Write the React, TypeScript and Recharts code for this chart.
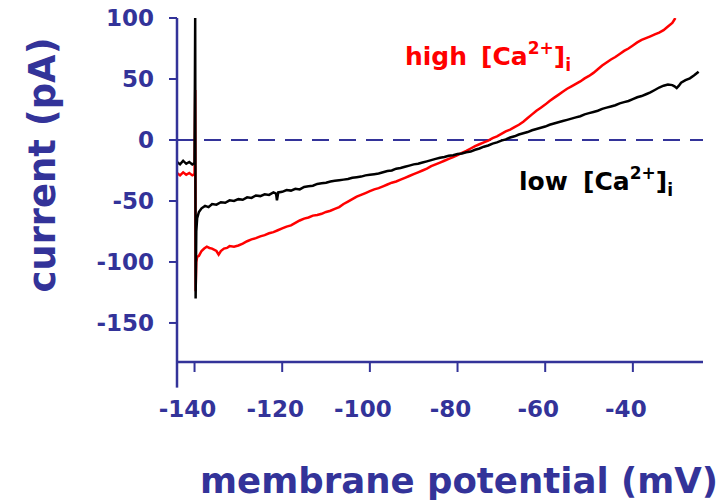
import { LineChart, Line, XAxis, YAxis, ReferenceLine } from "recharts";

const AXIS = "#333399";
const FONT = "'Comic Sans MS', 'DejaVu Sans', sans-serif";

// membrane potential (mV) and current (pA), low [Ca2+]i trace
const lowV = [
  -144, -143.3, -142.6, -141.9, -141.2, -140.5, -140, -139.85, -139.75, -139.6, -139.4, -139, -138.4, -137.6,
  -136.8, -136, -135, -134, -133, -132, -131, -130, -129, -128, -127, -126, -125, -124, -123, -122, -121.4,
  -121.2, -120.9, -120, -119, -118, -117, -116, -115, -114, -113, -112, -111, -110, -109, -108, -107, -106,
  -105, -104, -103, -102, -101, -100, -99, -98, -97, -96, -95, -94, -93, -92, -91, -90, -89, -88, -87, -86,
  -85, -84, -83, -82, -81, -80, -79, -78, -77, -76, -75, -74, -73, -72, -71, -70, -69, -68, -67, -66, -65,
  -64, -63, -62, -61, -60, -59, -58, -57, -56, -55, -54, -53, -52, -51, -50, -49, -48, -47, -46, -45, -44,
  -43, -42, -41, -40, -39, -38, -37, -36, -35, -34, -33, -32, -31, -30.5, -30, -29.5, -29, -28, -27, -26, -25,
];
const lowI = [
  -18, -20, -17, -19.5, -18, -20, -19, 100, -130, -75, -64, -59, -56, -54,
  -55, -52.5, -53, -51, -51.5, -49.5, -50, -48.5, -49, -47, -47.5, -45.5, -46, -44.5, -45, -43, -44,
  -49.5, -43, -42.5, -41, -41.5, -40, -40.5, -38.5, -38, -37.5, -36, -35.5, -35, -34, -33.5, -33, -32.5,
  -32, -31, -30.5, -30, -29, -28.5, -28, -27.5, -26.5, -25.5, -25, -23.5, -23, -22, -21, -20, -19.5, -18.5, -17.5, -16.5,
  -15.5, -14.5, -14, -13, -12.5, -11.5, -11, -10, -9.5, -8, -7, -5.5, -4.5, -3, -2, -0.5, 0.5, 2, 3, 4.5, 5.5,
  6.5, 8, 9, 10, 11, 12.5, 13.5, 14.5, 15.5, 16.5, 17.5, 18.5, 19.5, 21, 22, 23, 24, 25.5, 26.5, 27.5, 28.5,
  30, 31, 32, 33.5, 35, 36, 37.5, 39, 41, 43, 44.5, 45.5, 45, 44, 42.5, 44.5, 47, 49, 50.5, 53, 56,
];

// high [Ca2+]i trace
const highV = [
  -144, -143.3, -142.6, -141.9, -141.2, -140.5, -140, -139.85, -139.75, -139.6, -139.4, -139, -138.4, -137.8,
  -137.2, -136.6, -136, -135, -134.5, -134, -133.3, -132.6, -132, -131, -130, -129, -128, -127, -126, -125,
  -124, -123, -122, -121, -120, -119, -118, -117, -116, -115, -114, -113, -112, -111, -110, -109, -108, -107,
  -106, -105, -104, -103, -102, -101, -100, -99, -98, -97, -96, -95, -94, -93, -92, -91, -90, -89, -88, -87,
  -86, -85, -84, -83, -82, -81, -80, -79, -78, -77, -76, -75, -74, -73, -72, -71, -70, -69, -68, -67, -66,
  -65, -64, -63, -62, -61, -60, -59, -58, -57, -56, -55, -54, -53, -52, -51, -50, -49, -48, -47, -46, -45,
  -44, -43, -42, -41, -40, -39, -38, -37, -36, -35, -34, -33, -32, -31, -30.3,
];
const highI = [
  -27, -29, -26.5, -28.5, -27, -29, -28, 41, -124, -100, -96, -95, -91, -89,
  -87.5, -88.5, -89, -91, -94, -91, -89, -88.5, -87, -87.5, -86.5, -85, -83, -81.5, -80.5, -79,
  -78, -76.5, -75.5, -74, -72.5, -71, -70, -68, -66, -64.5, -63.5, -62, -61.5, -60.5, -59, -58, -56.5, -55,
  -52.5, -50.5, -48.5, -46.5, -45, -43.5, -42, -40.5, -39.5, -38, -36.5, -35, -34, -32.5, -31, -29.5, -28, -26.5, -25, -23.5,
  -21.5, -20, -18.5, -17, -15.5, -14, -12.5, -10.5, -9, -7, -5, -3.5, -2, -0.5, 1.5, 3, 5, 7, 8.5, 10.5, 12.5,
  15, 18, 21, 24, 26.5, 29, 32, 34.5, 37, 39.5, 42, 44, 46, 48, 50.5, 52.5, 55, 58, 61, 63.5, 66,
  68, 70.5, 73, 75, 77.5, 80, 82, 83.5, 85, 86.5, 88, 90, 93, 96, 100,
];

const xTicks = [-140, -120, -100, -80, -60, -40];
const yTicks = [-150, -100, -50, 0, 50, 100];

const lowData = lowV.map((v, k) => ({ v, i: lowI[k] }));
const highData = highV.map((v, k) => ({ v, i: highI[k] }));

function XTick({ x, y, payload }: any) {
  return (
    <text x={x - 7} y={y + 45} textAnchor="middle" fill={AXIS} fontSize={23} fontWeight="bold" fontFamily={FONT}>
      {payload.value}
    </text>
  );
}

export default function App() {
  return (
    <div style={{ position: "absolute", left: 0, top: 0, width: 725, height: 503, background: "#fff" }}>
      <LineChart width={725} height={503} margin={{ top: 18, right: 22, bottom: 0, left: 0 }}>
        <XAxis
          type="number"
          dataKey="v"
          domain={[-144, -24]}
          ticks={xTicks}
          allowDataOverflow
          height={141}
          tickSize={10}
          tickMargin={0}
          axisLine={{ stroke: AXIS, strokeWidth: 2.5 }}
          tickLine={{ stroke: AXIS, strokeWidth: 2 }}
          tick={<XTick />}
        />
        <YAxis
          type="number"
          domain={[-182, 100]}
          ticks={yTicks}
          allowDataOverflow
          width={177}
          tickSize={8}
          tickMargin={15}
          axisLine={{ stroke: AXIS, strokeWidth: 2.5 }}
          tickLine={{ stroke: AXIS, strokeWidth: 2 }}
          tick={{ fill: AXIS, fontSize: 23, fontWeight: "bold", fontFamily: FONT }}
        />
        <ReferenceLine y={0} stroke={AXIS} strokeWidth={2} strokeDasharray="17 10" />
        <ReferenceLine
          segment={[
            { x: -144, y: -182 },
            { x: -144, y: -203 },
          ]}
          ifOverflow="visible"
          stroke={AXIS}
          strokeWidth={2.5}
        />
        <Line data={highData} dataKey="i" type="linear" stroke="#ff0000" strokeWidth={2.5} dot={false} isAnimationActive={false} />
        <Line data={lowData} dataKey="i" type="linear" stroke="#000000" strokeWidth={2.5} dot={false} isAnimationActive={false} />
      </LineChart>
      <svg width={725} height={503} style={{ position: "absolute", left: 0, top: 0, pointerEvents: "none" }}>
        <text
          x={55}
          y={165}
          transform="rotate(-90 55 165)"
          textAnchor="middle"
          fill={AXIS}
          fontSize={37}
          fontWeight="bold"
          fontFamily={FONT}
          textLength={255}
          lengthAdjust="spacingAndGlyphs"
        >
          current (pA)
        </text>
        <text
          x={200}
          y={493}
          fill={AXIS}
          fontSize={36}
          fontWeight="bold"
          fontFamily={FONT}
          textLength={518}
          lengthAdjust="spacingAndGlyphs"
        >
          membrane potential (mV)
        </text>
        <text x={405} y={65} fill="#ff0000" fontSize={25} fontWeight="bold" fontFamily={FONT}>
          high
          <tspan x={481}>[Ca</tspan>
          <tspan dy={-11} fontSize={17}>2+</tspan>
          <tspan dy={11}>]</tspan>
          <tspan dy={6} fontSize={17}>i</tspan>
        </text>
        <text x={519} y={190} fill="#000000" fontSize={25} fontWeight="bold" fontFamily={FONT}>
          low
          <tspan x={583}>[Ca</tspan>
          <tspan dy={-11} fontSize={17}>2+</tspan>
          <tspan dy={11}>]</tspan>
          <tspan dy={6} fontSize={17}>i</tspan>
        </text>
      </svg>
    </div>
  );
}
